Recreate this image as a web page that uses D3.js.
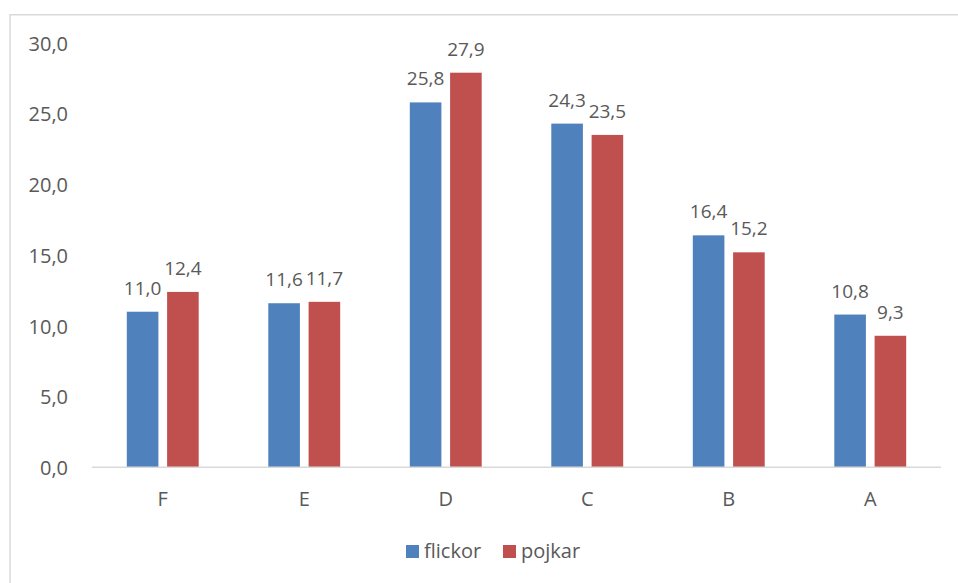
<!DOCTYPE html>
<html>
<head>
<meta charset="utf-8">
<script src="https://cdn.jsdelivr.net/npm/d3@7"></script>
<style>
  html, body { margin: 0; padding: 0; background: #ffffff; }
  svg { display: block; }
  text { font-family: "Open Sans", "Liberation Sans", sans-serif; fill: #595959; }
</style>
</head>
<body>
<svg id="chart" width="958" height="583"></svg>
<script>
const categories = ["F", "E", "D", "C", "B", "A"];
const seriesNames = ["flickor", "pojkar"];
const flickor = [11.0, 11.6, 25.8, 24.3, 16.4, 10.8];
const pojkar = [12.4, 11.7, 27.9, 23.5, 15.2, 9.3];
const yTicks = [0, 5, 10, 15, 20, 25, 30];
const colors = ["#4F81BD", "#C0504D"];

const seriesValues = [flickor, pojkar];
const svg = d3.select("#chart");
const W = 958, H = 583;

const locale = d3.formatLocale({ decimal: ",", thousands: " ", grouping: [3], currency: ["", " kr"] });
const fmt = locale.format(".1f");

// outer border (chart area frame)
svg.append("rect")
  .attr("x", 10).attr("y", 14.75)
  .attr("width", 1200).attr("height", 1200)
  .attr("fill", "none")
  .attr("stroke", "#d9d9d9")
  .attr("stroke-width", 1.5);

const x0 = d3.scaleBand().domain(categories).range([92, 941]).paddingInner(0).paddingOuter(0);
const x1 = d3.scaleBand().domain(seriesNames).range([-35.95, 35.95]).paddingInner(0.216).paddingOuter(0);
const y = d3.scaleLinear().domain([0, 30]).range([467.3, 43]);

// Y axis labels
const yAxis = d3.axisLeft(y).tickValues(yTicks).tickSize(0).tickPadding(0).tickFormat(fmt);
const gy = svg.append("g").attr("transform", "translate(68,0)").call(yAxis);
gy.select(".domain").remove();
gy.selectAll("text")
  .attr("font-family", "\"Open Sans\", sans-serif")
  .attr("font-size", 20)
  .attr("fill", "#595959")
  .attr("dy", "0.36em");

// bars
const groups = svg.append("g").selectAll("g")
  .data(categories)
  .join("g")
  .attr("transform", d => `translate(${x0(d) + x0.bandwidth() / 2},0)`);

groups.selectAll("rect")
  .data((c, i) => seriesNames.map((s, j) => ({ s, v: seriesValues[j][i], j })))
  .join("rect")
  .attr("x", d => x1(d.s))
  .attr("width", x1.bandwidth())
  .attr("y", d => y(d.v))
  .attr("height", d => y(0) - y(d.v))
  .attr("fill", d => colors[d.j]);

groups.selectAll("text.lbl")
  .data((c, i) => seriesNames.map((s, j) => ({ s, v: seriesValues[j][i], j })))
  .join("text")
  .attr("class", "lbl")
  .attr("x", d => x1(d.s) + x1.bandwidth() / 2)
  .attr("y", d => y(d.v) - 17)
  .attr("text-anchor", "middle")
  .attr("font-size", 19)
  .text(d => fmt(d.v));

// X axis baseline
svg.append("line")
  .attr("x1", 92).attr("x2", 941)
  .attr("y1", y(0)).attr("y2", y(0))
  .attr("stroke", "#d9d9d9")
  .attr("stroke-width", 1.5);

// X axis labels
const xAxis = d3.axisBottom(x0).tickSize(0).tickPadding(0);
const gx = svg.append("g").attr("transform", `translate(0,${y(0)})`).call(xAxis);
gx.select(".domain").remove();
gx.selectAll("text")
  .attr("font-family", "\"Open Sans\", sans-serif")
  .attr("font-size", 20)
  .attr("fill", "#595959")
  .attr("dy", null)
  .attr("y", 39);

// legend
const legendX = [406, 503];
const legend = svg.append("g");
seriesNames.forEach((s, j) => {
  legend.append("rect")
    .attr("x", legendX[j]).attr("y", 545)
    .attr("width", 13).attr("height", 13)
    .attr("fill", colors[j]);
  legend.append("text")
    .attr("x", legendX[j] + 18).attr("y", 558)
    .attr("font-size", 20)
    .text(s);
});
</script>
</body>
</html>
